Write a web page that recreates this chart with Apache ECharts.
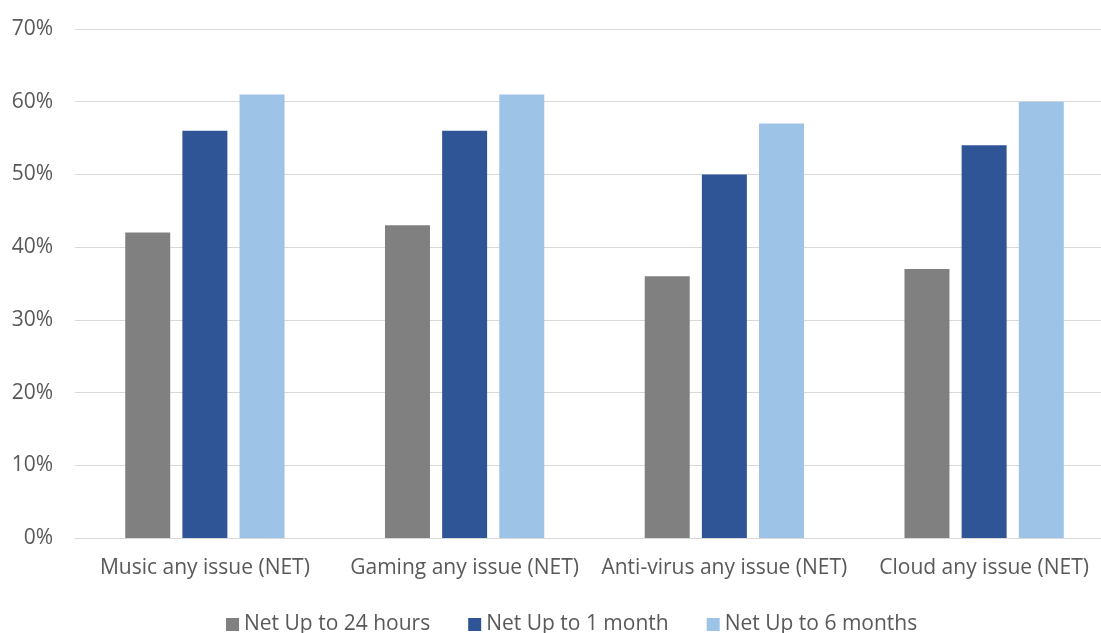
<!DOCTYPE html>
<html>
<head>
<meta charset="utf-8">
<script src="https://cdn.jsdelivr.net/npm/echarts@6/dist/echarts.min.js"></script>
<style>
  html, body { margin: 0; padding: 0; background: #fff; overflow: hidden; }
  /* the plot runs a bit past the right edge of the picture in the reference */
  #chart { width: 1114px; height: 633px; }
</style>
</head>
<body>
<div id="chart"></div>
<script>
// categories and series values (percent)
var categories = ['Music any issue (NET)', 'Gaming any issue (NET)', 'Anti-virus any issue (NET)', 'Cloud any issue (NET)'];
var seriesNames = ['Net Up to 24 hours', 'Net Up to 1 month', 'Net Up to 6 months'];
var up24h = [42, 43, 36, 37];
var up1m = [56, 56, 50, 54];
var up6m = [61, 61, 57, 60];

var colors = ['#808080', '#2F5597', '#9DC3E6'];
var textColor = '#595959';
var font = 'Open Sans';

var chart = echarts.init(document.getElementById('chart'));

var mkSeries = function(name, data) {
	return {
		name: name,
		type: 'bar',
		barWidth: 45,
		barGap: '27%',
		data: data,
		animation: false
	};
};

var option = {
	color: colors,
	textStyle: { fontFamily: font },
	grid: { left: 75, right: 0, top: 29, height: 509 },
	legend: {
		left: 221,
		top: 609,
		itemWidth: 13,
		itemHeight: 13,
		itemGap: 38,
		icon: 'rect',
		textStyle: { color: textColor, fontSize: 21, fontFamily: font },
		data: seriesNames
	},
	xAxis: {
		type: 'category',
		data: categories,
		axisLine: { lineStyle: { color: '#d9d9d9', width: 1 } },
		axisTick: { show: false },
		axisLabel: { color: textColor, fontSize: 21, margin: 20, interval: 0, fontFamily: font }
	},
	yAxis: {
		type: 'value',
		min: 0,
		max: 70,
		interval: 10,
		axisLine: { show: false },
		axisTick: { show: false },
		splitLine: { lineStyle: { color: '#d9d9d9', width: 1 } },
		axisLabel: { color: textColor, fontSize: 21, margin: 22, fontFamily: font, formatter: '{value}%' }
	},
	series: [
		mkSeries(seriesNames[0], up24h),
		mkSeries(seriesNames[1], up1m),
		mkSeries(seriesNames[2], up6m)
	]
};
option && chart.setOption(option);
</script>
</body>
</html>
